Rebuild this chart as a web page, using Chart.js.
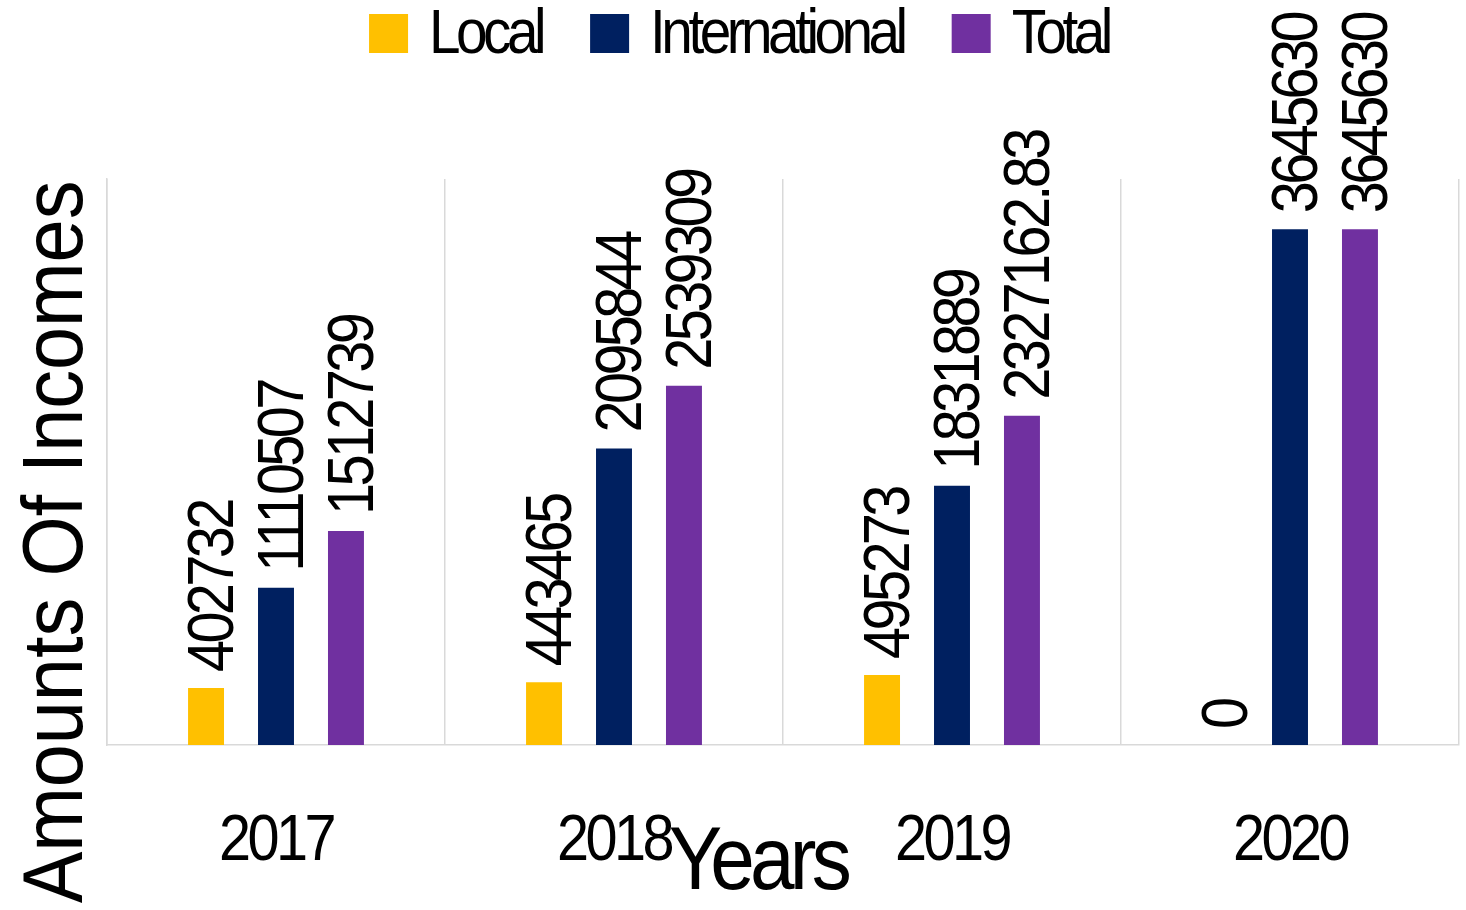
<!DOCTYPE html>
<html>
<head>
<meta charset="utf-8">
<script src="https://cdn.jsdelivr.net/npm/chart.js@4.4.1/dist/chart.umd.min.js"></script>
<style>
  html, body { margin: 0; padding: 0; background: #fff; }
  #wrap { width: 1466px; height: 910px; }
</style>
</head>
<body>
<div id="wrap"><canvas id="incomeChart"></canvas></div>
<script>
var years = ['2017', '2018', '2019', '2020'];
var localIncome = [402732, 443465, 495273, 0];
var internationalIncome = [1110507, 2095844, 1831889, 3645630];
var totalIncome = [1512739, 2539309, 2327162.83, 3645630];
var FONT = "'Liberation Sans', Arial, sans-serif";

// the original uses a squeezed Arial, so text is drawn narrowed
function squeezedText(ctx, text, x, y, size, sx, spacing, align, upright) {
  ctx.save();
  ctx.translate(x, y);
  if (upright) ctx.rotate(-Math.PI / 2);
  ctx.scale(sx, 1);
  ctx.font = size + 'px ' + FONT;
  ctx.letterSpacing = (spacing / sx) + 'px';
  ctx.textAlign = align;
  ctx.textBaseline = 'alphabetic';
  ctx.fillStyle = '#000';
  ctx.fillText(text, 0, 0);
  var w = ctx.measureText(text).width * sx;
  ctx.restore();
  return w;
}

function textWidth(ctx, text, size, sx, spacing) {
  ctx.save();
  ctx.font = size + 'px ' + FONT;
  ctx.letterSpacing = (spacing / sx) + 'px';
  var w = ctx.measureText(text).width * sx;
  ctx.restore();
  return w;
}

var barLabels = {
  id: 'barLabels',
  afterDatasetsDraw: function (chart) {
    var ctx = chart.ctx;
    chart.data.datasets.forEach(function (ds, i) {
      chart.getDatasetMeta(i).data.forEach(function (bar, j) {
        squeezedText(ctx, String(ds.data[j]), bar.x + 27, bar.y - 16, 64, 0.9, -3.6, 'left', true);
      });
    });
  }
};

var chartText = {
  id: 'chartText',
  afterDraw: function (chart) {
    var ctx = chart.ctx;
    var xs = chart.scales.x;

    // category labels
    years.forEach(function (y, i) {
      squeezedText(ctx, y, xs.getPixelForValue(i), 860, 64, 0.9, -3.5, 'center', false);
    });

    // axis titles
    squeezedText(ctx, 'Amounts Of Incomes', 82, 542, 86, 0.9, 0, 'center', true);
    squeezedText(ctx, 'Years', 758, 889, 89, 0.9, -4.7, 'center', false);

    // legend
    var box = 39, gap = 21, itemGap = 48, size = 63;
    var items = chart.data.datasets.map(function (ds) {
      return { label: ds.label, color: ds.backgroundColor, w: textWidth(ctx, ds.label, size, 0.9, -4.5) };
    });
    var total = 0;
    items.forEach(function (it, k) { total += box + gap + it.w + (k ? itemGap : 0); });
    var x = 739 - total / 2;
    items.forEach(function (it) {
      ctx.save();
      ctx.fillStyle = it.color;
      ctx.fillRect(x, 14, box, box);
      ctx.restore();
      squeezedText(ctx, it.label, x + box + gap, 53, size, 0.9, -4.5, 'left', false);
      x += box + gap + it.w + itemGap;
    });
  }
};

document.addEventListener('DOMContentLoaded', function () {
  var ctx = document.getElementById('incomeChart').getContext('2d');
  var incomeChart = new Chart(ctx, {
    type: 'bar',
    data: {
      labels: years,
      datasets: [{
        label: 'Local',
        data: localIncome,
        backgroundColor: '#FFC000'
      }, {
        label: 'International',
        data: internationalIncome,
        backgroundColor: '#002060'
      }, {
        label: 'Total',
        data: totalIncome,
        backgroundColor: '#7030A0'
      }]
    },
    options: {
      responsive: true,
      maintainAspectRatio: false,
      animation: false,
      categoryPercentage: 0.621,
      barPercentage: 0.514,
      layout: {
        padding: { top: 179, left: 107, right: 7, bottom: 0 }
      },
      plugins: {
        legend: { display: false },
        tooltip: { enabled: false }
      },
      scales: {
        x: {
          grid: { color: '#d9d9d9', lineWidth: 1.5, drawTicks: false },
          border: { color: '#d9d9d9', width: 1.5 },
          ticks: { display: false },
          afterFit: function (scale) { scale.height = 165; }
        },
        y: {
          min: 0,
          max: 4000000,
          grid: { display: false },
          border: { color: '#d9d9d9', width: 1.5 },
          ticks: { display: false },
          afterFit: function (scale) { scale.width = 0; }
        }
      }
    },
    plugins: [barLabels, chartText]
  });
});
</script>
</body>
</html>
